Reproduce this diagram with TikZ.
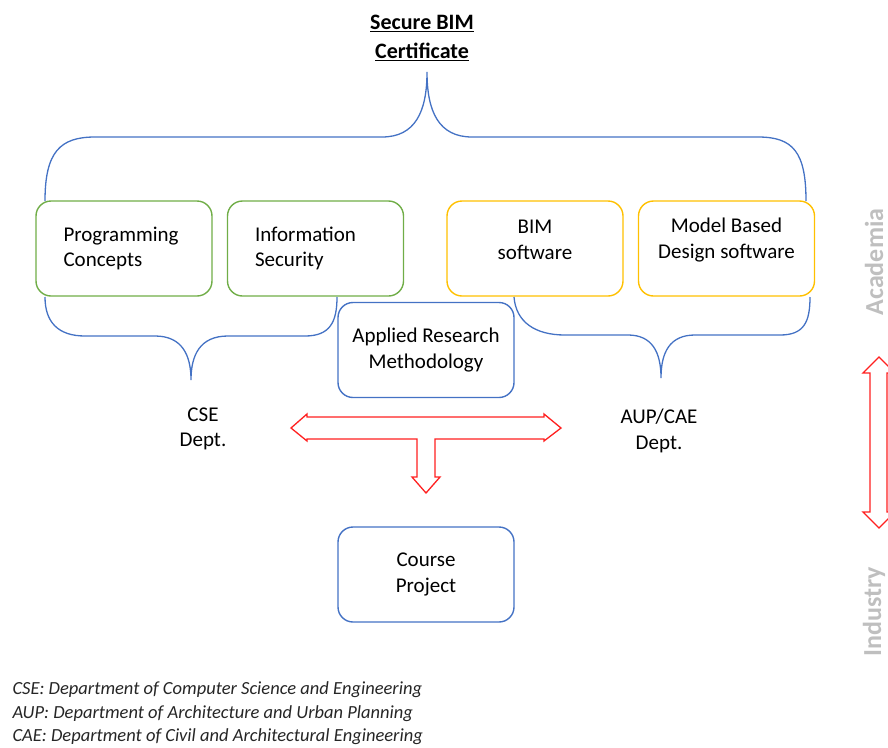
\documentclass[tikz,border=0pt]{standalone}
\usepackage{fontspec}
\setmainfont{Carlito}
\definecolor{cblue}{HTML}{4472C4}
\definecolor{cgreen}{HTML}{70AD47}
\definecolor{cyellow}{HTML}{FFC000}
\definecolor{cred}{HTML}{FF2020}
\definecolor{cgray}{HTML}{BFBFBF}
\begin{document}
\begin{tikzpicture}[x=1pt,y=-1pt,
  box/.style={draw,line width=1.4pt,rounded corners=15pt,minimum width=176pt,minimum height=95pt,inner sep=0pt,font=\fontsize{21}{25.5}\selectfont},
  gbox/.style={box,draw=cgreen,align=left,text width=121pt},
  ybox/.style={box,draw=cyellow},
  bbox/.style={box,draw=cblue,align=center},
  brace/.style={draw=cblue,line width=1.3pt},
  redarrow/.style={draw=cred,line width=1.3pt,fill=white,line join=miter},
  lbl/.style={font=\fontsize{21}{25.5}\selectfont,align=center},
  side/.style={font=\fontsize{26}{30}\selectfont\bfseries,text=cgray,rotate=90,inner sep=0pt},
  foot/.style={font=\fontsize{18.5}{23.5}\selectfont\itshape,align=left,anchor=west,text=black!85}]
\useasboundingbox (0,0) rectangle (888,747);
\clip (0,0) rectangle (888,747);
% title
\node[font=\fontsize{22}{28.5}\selectfont\bfseries,align=center] (title) at (422,38) {\underline{Secure BIM}\\\underline{Certificate}};
% boxes
\node[gbox] (prog) at (124,248.5) {Programming\\Concepts};
\node[gbox] (info) at (315.5,248.5) {Information\\Security};
\node[ybox] (bim) at (535,248.5) {};
\node[lbl] (bimt) at (535,240) {BIM\\software};
\node[ybox] (mbd) at (726.5,248.5) {};
\node[lbl] (mbdt) at (726.5,240) {Model Based\\Design software};
\node[bbox] (arm) at (426,350) {Applied Research\\Methodology};
\node[bbox] (cp) at (426,574.5) {Course\\Project};
% top brace
\coordinate (ttip) at (427,72);
\path[brace] (45,201) .. controls (45,152) and (60,137) .. (95,137) -- (382,137)
  .. controls (415,137) and (427,112) .. (ttip)
  .. controls (427,112) and (439,137) .. (472,137) -- (758,137)
  .. controls (793,137) and (806,152) .. (806,201);
% lower left brace
\coordinate (ltip) at (191,380);
\path[brace] (45,297) .. controls (45,322) and (58,336) .. (85,336) -- (155,336)
  .. controls (182,336) and (191,355) .. (ltip)
  .. controls (191,355) and (200,336) .. (228,336) -- (305,336)
  .. controls (330,336) and (337,322) .. (337,297);
% lower right brace
\coordinate (rtip) at (661,378);
\path[brace] (514,297) .. controls (516,322) and (535,335) .. (565,335) -- (628,335)
  .. controls (652,335) and (661,352) .. (rtip)
  .. controls (661,352) and (670,335) .. (695,335) -- (780,335)
  .. controls (804,335) and (810,322) .. (810,297);
% dept labels
\node[lbl] (cse) at (203,429) {CSE\\Dept.};
\node[lbl] (aup) at (659,431) {AUP/CAE\\Dept.};
% T arrow
\path[redarrow] (291,428) -- (307,414) -- (307,417) -- (544,417) -- (544,414) -- (561,428)
  -- (544,441) -- (544,439) -- (435,439) -- (435,477) -- (440,477) -- (426,493)
  -- (412,477) -- (417,477) -- (417,439) -- (307,439) -- (307,441) -- cycle;
% vertical arrow
\path[redarrow] (879,357) -- (895,373) -- (887,373) -- (887,512) -- (895,512) -- (879,528)
  -- (863,512) -- (870,512) -- (870,373) -- (863,373) -- cycle;
% side labels
\node[side] (acad) at (874,262) {Academia};
\node[side] (ind) at (874,612) {Industry};
% footnotes
\node[foot] (fn) at (9,713.5) {CSE: Department of Computer Science and Engineering\\AUP: Department of Architecture and Urban Planning\\CAE: Department of Civil and Architectural Engineering};
\end{tikzpicture}
\end{document}
